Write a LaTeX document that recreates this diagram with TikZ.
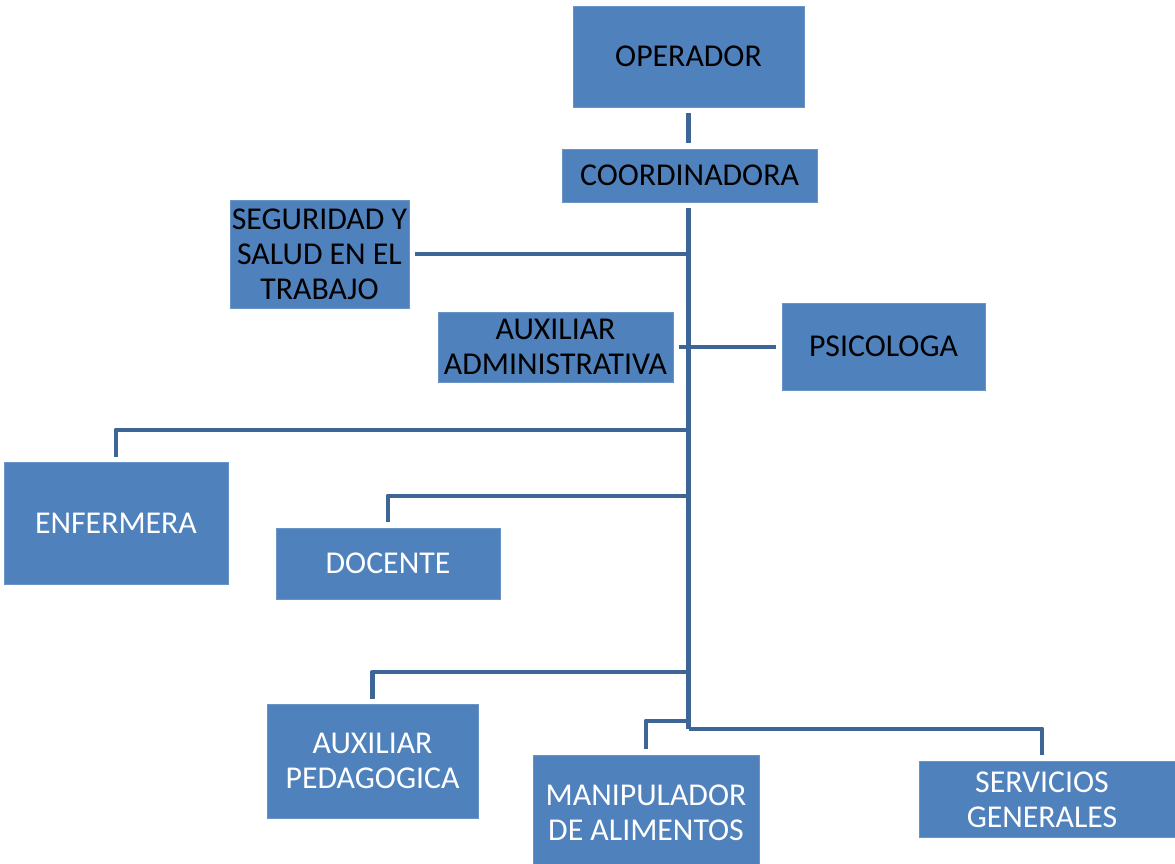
\documentclass[tikz,border=0pt]{standalone}
\usepackage{fontspec}
\setmainfont{Carlito}
\usetikzlibrary{calc}
\definecolor{boxblue}{HTML}{4F81BD}
\definecolor{linkblue}{HTML}{3D6596}
\tikzset{
  box/.style={fill=boxblue, draw=boxblue!85!white, line width=0.4pt, inner sep=0pt, align=center,
    font=\fontsize{18.1}{19.9}\selectfont},
  dark/.style={box, text=black},
  light/.style={box, text=white},
  conn/.style={draw=linkblue, line width=2.8pt, line join=round, line cap=butt},
}
\begin{document}
\begin{tikzpicture}[x=0.02cm, y=-0.02cm]
\useasboundingbox (0,0) rectangle (1175,863);
% boxes
\node[dark, minimum width=4.62cm, minimum height=2.02cm] (op) at (688.5,56.5) {OPERADOR};
\node[dark, minimum width=5.10cm, minimum height=1.06cm] (co) at (689.5,175.5) {COORDINADORA};
\node[dark, minimum width=3.58cm, minimum height=2.16cm] (seg) at (319.5,254) {SEGURIDAD Y\\SALUD EN EL\\TRABAJO};
\node[dark, minimum width=4.70cm, minimum height=1.40cm] (adm) at (555.5,347) {AUXILIAR\\ADMINISTRATIVA};
\node[dark, minimum width=4.06cm, minimum height=1.74cm] (psi) at (883.5,346.5) {PSICOLOGA};
\node[light, minimum width=4.48cm, minimum height=2.44cm] (enf) at (116,523) {ENFERMERA};
\node[light, minimum width=4.48cm, minimum height=1.42cm] (doc) at (388,563.5) {DOCENTE};
\node[light, minimum width=4.22cm, minimum height=2.28cm] (aped) at (372.5,761) {AUXILIAR\\PEDAGOGICA};
\node[light, minimum width=4.52cm, minimum height=2.20cm] (man) at (646,810) {};
\node[light, fill=none, draw=none] (mant) at (646,813) {MANIPULADOR\\DE ALIMENTOS};
\node[light, minimum width=5.22cm, minimum height=1.52cm] (srvbox) at (1049.5,799) {};
\node[light, fill=none, draw=none] (srv) at (1042,800) {SERVICIOS\\GENERALES};
% trunk
\coordinate (top) at ($(co.south)+(-1,6)$);
\coordinate (bot) at (top |- 0,729);
\draw[conn] ($(op.south)+(0,6)$) -- ($(op.south |- co.north)+(0,-6)$);
\draw[conn] (top) -- (bot);
% side branches
\draw[conn] ($(seg.east)+(6,0)$) -- (seg.east -| top);
\draw[conn] ($(adm.east)+(6,0)$) -- ($(psi.west |- adm.east)+(-6,0)$);
% drop branches
\draw[conn] (top |- 0,430) -- (enf.north |- 0,430) -- ($(enf.north)+(0,-5)$);
\draw[conn] (top |- 0,496) -- (doc.north |- 0,496) -- ($(doc.north)+(0,-6)$);
\draw[conn] (top |- 0,672) -- (aped.north |- 0,672) -- ($(aped.north)+(0,-5)$);
\draw[conn] (top |- 0,721) -- (man.north |- 0,721) -- ($(man.north)+(0,-6)$);
\draw[conn] (bot) -- (srv |- 0,729) -- ($(srv |- srvbox.north)+(0,-6)$);
\end{tikzpicture}
\end{document}
